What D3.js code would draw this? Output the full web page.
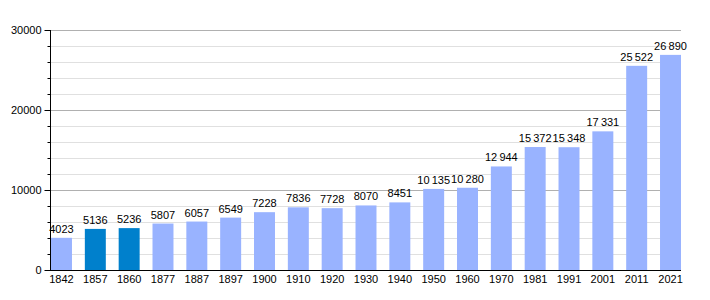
<html>
<head>
<title>Population</title>
<style>
  body { margin: 0; background: #fff; }
  text { font-family: "Liberation Sans", Arial, sans-serif; }
</style>
</head>
<body>
<div id="svghere"></div>
<script src="https://d3js.org/d3.v7.min.js"></script>
<script>
var years = ["1842","1857","1860","1877","1887","1897","1900","1910","1920","1930","1940","1950","1960","1970","1981","1991","2001","2011","2021"];
var population = [4023,5136,5236,5807,6057,6549,7228,7836,7728,8070,8451,10135,10280,12944,15372,15348,17331,25522,26890];
var highlighted = ["1857","1860"];
var yTicks = [0,10000,20000,30000];

var width = 710, height = 300;
var mLeft = 50, mRight = 681, mTop = 30, mBottom = 270;

var svg = d3.select("#svghere")
    .append("svg")
    .attr("width", width)
    .attr("height", height);

var x = d3.scaleBand()
    .domain(years)
    .range([mLeft + 1, mRight])
    .paddingInner(0.38)
    .paddingOuter(0);

var y = d3.scaleLinear()
    .domain([0, 30000])
    .range([mBottom, mTop]);

// minor gridlines every 2000
var minor = d3.range(0, 30001, 2000).filter(function(d) { return d % 10000 !== 0; });
svg.selectAll(".minor")
    .data(minor)
    .enter()
    .append("line")
    .attr("x1", mLeft).attr("x2", mRight)
    .attr("y1", function(d) { return y(d) + 0.5; })
    .attr("y2", function(d) { return y(d) + 0.5; })
    .style("stroke", "#e0e0e0")
    .style("stroke-width", 1);

svg.selectAll(".major")
    .data(yTicks.filter(function(d) { return d > 0; }))
    .enter()
    .append("line")
    .attr("x1", mLeft).attr("x2", mRight)
    .attr("y1", function(d) { return y(d) + 0.5; })
    .attr("y2", function(d) { return y(d) + 0.5; })
    .style("stroke", "#b0b0b0")
    .style("stroke-width", 1);

svg.selectAll("rect")
    .data(population)
    .enter()
    .append("rect")
    .attr("x", function(d, i) { return x(years[i]); })
    .attr("width", x.bandwidth())
    .attr("y", function(d) { return y(d); })
    .attr("height", function(d) { return mBottom - y(d); })
    .attr("fill", function(d, i) {
        return highlighted.indexOf(years[i]) >= 0 ? "#0080cc" : "#99b3ff";
    });

function fmt(v) {
    if (v < 10000) return String(v);
    var s = String(v);
    return s.slice(0, s.length - 3) + "\u2009" + s.slice(s.length - 3);
}

svg.selectAll(".val")
    .data(population)
    .enter()
    .append("text")
    .attr("x", function(d, i) { return x(years[i]) + x.bandwidth() / 2; })
    .attr("y", function(d) { return y(d) - 5; })
    .attr("text-anchor", "middle")
    .style("font-size", "11px")
    .style("fill", "#000")
    .text(function(d) { return fmt(d); });

// y axis
var yAxis = d3.axisLeft(y)
    .tickValues(yTicks)
    .tickSize(6)
    .tickFormat(d3.format("d"));
var ya = svg.append("g")
    .attr("transform", "translate(" + (mLeft + 0.5) + ",0)")
    .call(yAxis);
ya.select(".domain").attr("d", "M0," + mTop + "V" + mBottom).style("stroke", "#000");
ya.selectAll("text").style("font-size", "11px").style("font-family", "Liberation Sans, Arial, sans-serif").attr("x", -9);

var yMinor = d3.axisLeft(y).tickValues(minor).tickSize(3).tickFormat("");
var ym = svg.append("g")
    .attr("transform", "translate(" + (mLeft + 0.5) + ",0)")
    .call(yMinor);
ym.select(".domain").remove();

// x axis
var xAxis = d3.axisBottom(x).tickSize(0).tickPadding(5);
var xa = svg.append("g")
    .attr("transform", "translate(0," + (mBottom + 0.5) + ")")
    .call(xAxis);
xa.select(".domain").attr("d", "M" + mLeft + ",0H" + mRight).style("stroke", "#000");
xa.selectAll("text").style("font-size", "11px").style("font-family", "Liberation Sans, Arial, sans-serif");
</script>
</body>
</html>
